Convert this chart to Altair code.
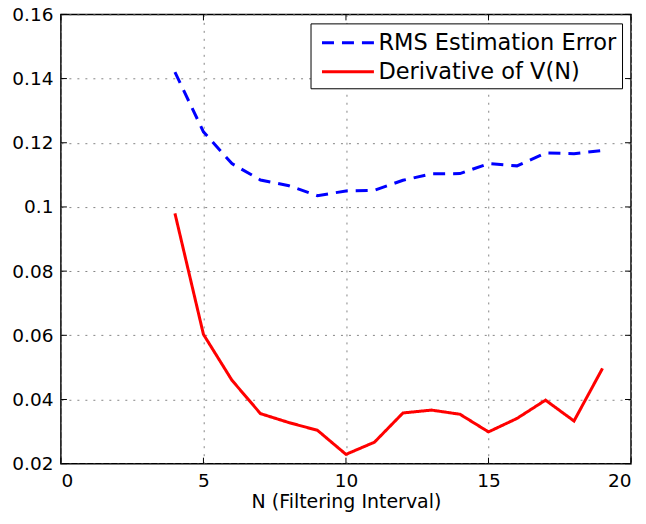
import altair as alt
import pandas as pd

n_values = list(range(4, 20))
rms_error = [0.142, 0.1234, 0.1135, 0.1084, 0.1066, 0.1035, 0.1050, 0.1052,
             0.1083, 0.1103, 0.1104, 0.1135, 0.1128, 0.1168, 0.1166, 0.1176]
deriv_v = [0.098, 0.0603, 0.046, 0.0356, 0.0328, 0.0304, 0.0229, 0.0267,
           0.0358, 0.0367, 0.0354, 0.0299, 0.0341, 0.0398, 0.0333, 0.0497]
series_names = ["RMS Estimation Error", "Derivative of V(N)"]
x_ticks = [0, 5, 10, 15, 20]
y_ticks = [0.02, 0.04, 0.06, 0.08, 0.1, 0.12, 0.14, 0.16]

rows = []
for n, v in zip(n_values, rms_error):
    rows.append({"N": n, "value": v, "series": series_names[0]})
for n, v in zip(n_values, deriv_v):
    rows.append({"N": n, "value": v, "series": series_names[1]})
df = pd.DataFrame(rows)
xt_df = pd.DataFrame({"N": x_ticks})
yt_df = pd.DataFrame({"value": y_ticks})

FONT = "DejaVu Sans"
W, H = 571, 450
TICK = 6

x_scale = alt.Scale(domain=[0, 20], nice=False)
y_scale = alt.Scale(domain=[0.02, 0.16], nice=False, zero=False)
x_axis = alt.Axis(values=x_ticks, title="N (Filtering Interval)", format="d")
y_axis = alt.Axis(values=y_ticks, title=None, labelExpr="format(datum.value, '.2~f')")

legend_opts = dict(title=None, orient="none", legendX=250, legendY=9,
                   symbolType="M-2,0H2", symbolSize=676, symbolOffset=18,
                   symbolStrokeWidth=3, labelFontSize=22.5, labelLimit=0,
                   labelFont=FONT, labelColor="black",
                   strokeColor="black", fillColor="white",
                   padding=5, rowPadding=3, labelOffset=16)

lines = alt.Chart(df).mark_line(strokeWidth=3).encode(
    x=alt.X("N:Q", scale=x_scale, axis=x_axis),
    y=alt.Y("value:Q", scale=y_scale, axis=y_axis),
    color=alt.Color("series:N",
                    scale=alt.Scale(domain=series_names, range=["#0000ff", "#ff0000"]),
                    legend=alt.Legend(**legend_opts)),
    strokeDash=alt.StrokeDash("series:N",
                              scale=alt.Scale(domain=series_names, range=[[12, 8], [1, 0]]),
                              legend=alt.Legend(**legend_opts)),
)

tick_style = dict(color="black", strokeWidth=1)
y_left = alt.Chart(yt_df).mark_rule(**tick_style).encode(
    y=alt.Y("value:Q", scale=y_scale, axis=y_axis), x=alt.value(0), x2=alt.value(TICK))
y_right = alt.Chart(yt_df).mark_rule(**tick_style).encode(
    y=alt.Y("value:Q", scale=y_scale, axis=y_axis), x=alt.value(W), x2=alt.value(W - TICK))
x_bottom = alt.Chart(xt_df).mark_rule(**tick_style).encode(
    x=alt.X("N:Q", scale=x_scale, axis=x_axis), y=alt.value(H), y2=alt.value(H - TICK))
x_top = alt.Chart(xt_df).mark_rule(**tick_style).encode(
    x=alt.X("N:Q", scale=x_scale, axis=x_axis), y=alt.value(0), y2=alt.value(TICK))

chart = alt.layer(lines, y_left, y_right, x_bottom, x_top).properties(
    width=W, height=H,
    autosize=alt.AutoSizeParams(type="none"),
    padding={"left": 53, "top": 6, "right": 7, "bottom": 52},
).configure_view(
    stroke="black", strokeWidth=1.5
).configure_axis(
    labelFont=FONT, titleFont=FONT, labelFontSize=18.5, titleFontSize=19,
    labelColor="black", titleColor="black", titleFontWeight="normal",
    domain=False, ticks=False, labelPadding=8, titlePadding=2,
    grid=True, gridColor="#777777", gridDash=[2, 6], gridWidth=1, gridOpacity=0.9,
)

chart.save("out.html", embed_options={"renderer": "svg", "actions": False})
